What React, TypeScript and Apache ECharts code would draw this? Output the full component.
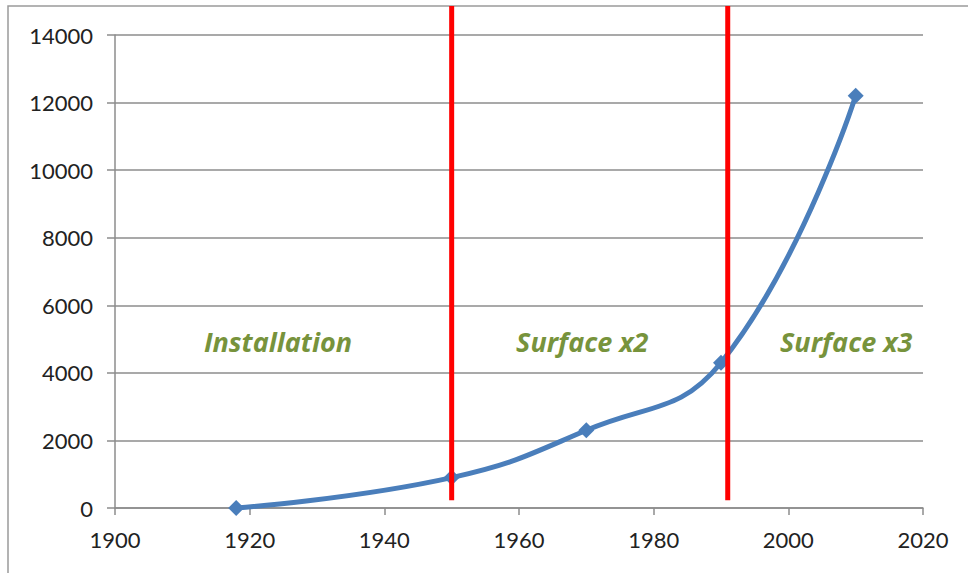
import React, { useEffect, useRef } from "react";
import * as echarts from "echarts";

// Measurement series
const years = [1918, 1950, 1970, 1990, 2010];
const values = [0, 900, 2300, 4300, 12200];

// Phase boundaries (vertical red markers)
const phaseYears = [1950, 1991];
const phaseLineBase = 230;

// Phase captions and their anchor positions (year, value)
const phaseNames = ["Installation", "Surface x2", "Surface x3"];
const phaseNameYears = [1924.2, 1969.4, 2008.6];
const phaseNameValue = 4930;

const W = 968;
const H = 573;

export default function App() {
  const ref = useRef<HTMLDivElement>(null);

  useEffect(() => {
    if (!ref.current) return;
    const chart = echarts.init(ref.current, null, { renderer: "svg" });
    const axisGray = "#8c8c8c";
    const labelFont = {
      fontFamily: "Lato",
      fontSize: 22,
      color: "#222",
      formatter: (v: number) => String(v),
    };

    chart.setOption({
      animation: false,
      backgroundColor: "#fff",
      grid: { left: 115, top: 35, right: 45, bottom: 65 },
      xAxis: {
        type: "value",
        min: 1900,
        max: 2020,
        interval: 20,
        axisLine: { show: true, lineStyle: { color: axisGray, width: 1.5 } },
        axisTick: { show: true, length: 7, lineStyle: { color: axisGray, width: 1.5 } },
        axisLabel: { ...labelFont, margin: 20 },
        splitLine: { show: false },
      },
      yAxis: {
        type: "value",
        min: 0,
        max: 14000,
        interval: 2000,
        axisLine: { show: true, lineStyle: { color: axisGray, width: 1.5 } },
        axisTick: { show: true, inside: false, length: 8, lineStyle: { color: axisGray, width: 1.5 } },
        axisLabel: { ...labelFont, margin: 22 },
        splitLine: { show: true, lineStyle: { color: axisGray, width: 1.5 } },
      },
      series: [
        {
          type: "line",
          data: years.map((y, i) => [y, values[i]]),
          smooth: 0.45,
          symbol: "diamond",
          symbolSize: 16,
          itemStyle: { color: "#4a7ebb" },
          lineStyle: { color: "#4a7ebb", width: 5 },
          z: 3,
        },
      ],
    });

    const graphics: any[] = [];
    // chart frame (top and left edges)
    graphics.push({
      type: "polyline",
      shape: { points: [[8, H + 2], [8, 6], [W + 2, 6]] },
      style: { stroke: "#9a9a9a", lineWidth: 1.5, fill: "none" },
      z: 1,
    });
    phaseYears.forEach((yr) => {
      const p = chart.convertToPixel({ gridIndex: 0 }, [yr, phaseLineBase]) as number[];
      graphics.push({
        type: "line",
        shape: { x1: p[0], y1: 6, x2: p[0], y2: p[1] },
        style: { stroke: "#ff0000", lineWidth: 5 },
        z: 10,
      });
    });
    phaseNames.forEach((name, i) => {
      const p = chart.convertToPixel({ gridIndex: 0 }, [phaseNameYears[i], phaseNameValue]) as number[];
      graphics.push({
        type: "text",
        x: p[0],
        y: p[1],
        style: {
          text: name,
          fill: "#77933c",
          font: "italic bold 27px 'Open Sans'",
          align: "center",
          verticalAlign: "middle",
        },
        z: 10,
      });
    });
    chart.setOption({ graphic: graphics });

    return () => chart.dispose();
  }, []);

  return (
    <div
      ref={ref}
      style={{ position: "fixed", left: 0, top: 0, width: W, height: H }}
    />
  );
}
